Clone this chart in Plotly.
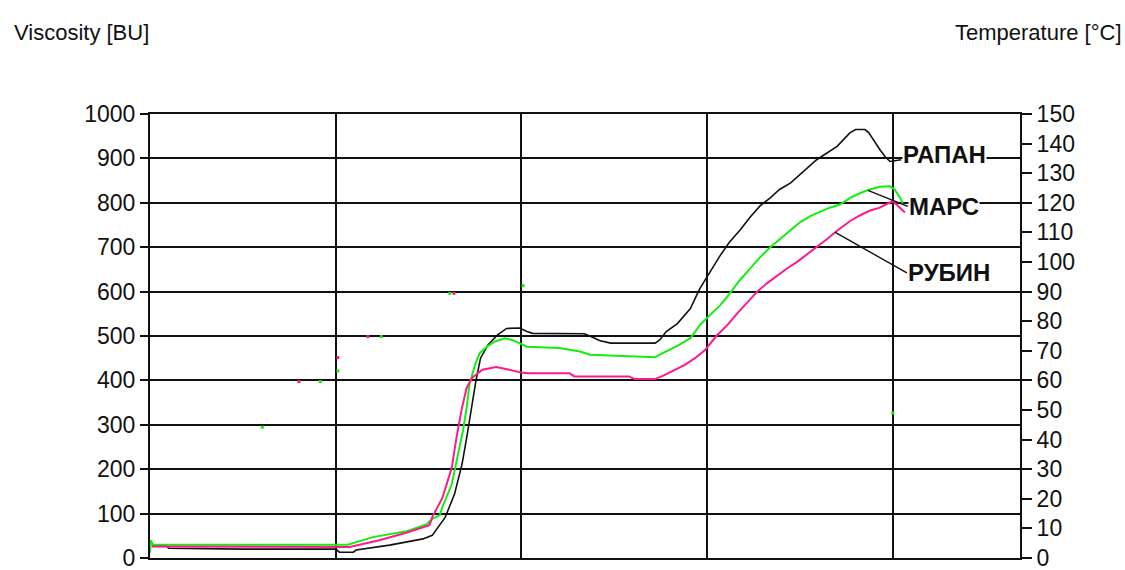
import plotly.graph_objects as go

# Time axis (min) and viscosity curves (BU)
rapan_t = [0.1, 0.9, 1.0, 5.0, 10.0, 10.2, 10.95, 11.1, 12.9, 14.7, 15.2, 15.6, 15.9, 16.4, 16.8, 17.05, 17.3,
           17.55, 17.8, 18.2, 18.7, 19.2, 19.9, 20.3, 20.6, 21.8, 23.4, 23.95, 24.2, 24.8, 27.2, 27.45,
           27.8, 28.4, 28.8, 29.1, 29.6, 30.15, 30.7, 31.2, 31.8, 32.3, 32.85, 33.4, 33.9, 34.5, 35.9,
           37.0, 37.7, 38.0, 38.5, 38.7, 39.0, 39.3, 39.6, 39.85, 40.45]
rapan_bu = [27, 27, 22, 20, 20, 13, 13, 18, 29, 43, 51, 76, 92, 144, 211, 270, 338,
            399, 450, 480, 502, 517, 518, 510, 506, 505, 505, 495, 490, 484, 484, 491,
            510, 528, 547, 562, 606, 644, 681, 711, 740, 767, 793, 811, 830, 845, 897,
            927, 958, 965, 965, 958, 938, 920, 903, 893, 897]

mars_t = [0.0, 0.05, 0.15, 10.65, 12.0, 13.8, 14.9, 15.2, 15.6, 15.75, 16.25, 16.55, 16.85, 17.05,
          17.2, 17.5, 17.75, 18.15, 18.55, 19.1, 19.5, 19.9, 20.3, 22.05, 23.15, 23.7, 25.8, 27.2,
          27.45, 28.0, 28.5, 29.1, 29.6, 30.15, 30.7, 31.2, 31.75, 32.3, 32.85, 33.4, 33.9, 34.45,
          35.0, 35.55, 36.1, 36.6, 37.15, 37.7, 38.25, 38.75, 39.3, 39.85, 40.1, 40.4, 40.55]
mars_bu = [12, 40, 30, 30, 47, 60, 76, 88, 96, 115, 166, 227, 286, 338,
           390, 435, 461, 476, 487, 495, 491, 484, 476, 473, 465, 458, 454, 452,
           458, 469, 480, 495, 524, 547, 569, 595, 625, 651, 677, 700, 718, 737,
           756, 770, 780, 789, 796, 811, 822, 830, 836, 837, 830, 811, 796]

rubin_t = [0.1, 10.75, 12.35, 13.8, 15.05, 15.2, 15.75, 16.25, 16.5, 16.8, 17.05, 17.35, 17.9, 18.65,
           19.35, 20.05, 20.45, 22.6, 22.85, 25.8, 26.1, 27.2, 27.7, 28.25, 28.8, 29.35, 29.9, 30.5,
           31.1, 31.6, 32.15, 32.7, 33.2, 33.75, 34.3, 34.85, 35.4, 35.9, 36.45, 37.0, 37.7, 38.25,
           38.75, 39.3, 39.85, 40.0, 40.2, 40.5, 40.65]
rubin_bu = [26, 25, 40, 57, 74, 92, 136, 203, 270, 338, 383, 406, 424, 430,
            424, 417, 416, 416, 409, 409, 403, 403, 412, 424, 435, 450, 469, 500,
            525, 550, 576, 600, 618, 636, 652, 667, 684, 700, 718, 737, 759, 772,
            782, 789, 800, 804, 796, 785, 778]

# Sparse temperature samples (°C)
temp_green_t = [6.05, 9.17, 10.12, 12.46, 16.14, 20.09, 40.0]
temp_green_c = [44.2, 59.6, 63.2, 74.8, 89.4, 92.0, 49.0]
temp_pink_t = [8.02, 10.12, 11.73, 16.37]
temp_pink_c = [59.6, 67.7, 74.8, 89.4]

bu_ticks = list(range(0, 1001, 100))
temp_ticks = list(range(0, 151, 10))

GREEN = "#10f010"
PINK = "#ff1a8c"
INK = "#111111"
TICK_FONT = dict(family="Liberation Sans, Arial", size=23, color=INK)
LABEL_FONT = dict(family="Liberation Sans, Arial", size=24, color=INK, weight="bold")

fig = go.Figure()
fig.add_trace(go.Scatter(x=rapan_t, y=rapan_bu, mode="lines", name="РАПАН",
                         line=dict(color=INK, width=1.6)))
fig.add_trace(go.Scatter(x=mars_t, y=mars_bu, mode="lines", name="МАРС",
                         line=dict(color=GREEN, width=2)))
fig.add_trace(go.Scatter(x=rubin_t, y=rubin_bu, mode="lines", name="РУБИН",
                         line=dict(color=PINK, width=2)))
fig.add_trace(go.Scatter(x=temp_green_t, y=temp_green_c, mode="markers", yaxis="y2",
                         marker=dict(color=GREEN, size=3, symbol="square")))
fig.add_trace(go.Scatter(x=temp_pink_t, y=temp_pink_c, mode="markers", yaxis="y2",
                         marker=dict(color=PINK, size=3, symbol="square")))

# Curve labels
fig.add_annotation(x=40.49, y=908, text="РАПАН", showarrow=False, xanchor="left", yanchor="middle",
                   font=LABEL_FONT, bgcolor="white", borderpad=0)
fig.add_annotation(x=38.66, y=828, ax=40.81, ay=792, axref="x", ayref="y", text="МАРС",
                   showarrow=True, arrowhead=0, arrowwidth=1.4, arrowcolor=INK,
                   xanchor="left", yanchor="middle", font=LABEL_FONT, bgcolor="white", borderpad=0)
fig.add_annotation(x=36.88, y=734, ax=40.76, ay=642, axref="x", ayref="y", text="РУБИН",
                   showarrow=True, arrowhead=0, arrowwidth=1.4, arrowcolor=INK,
                   xanchor="left", yanchor="middle", font=LABEL_FONT, bgcolor="white", borderpad=0)

# Axis titles
TITLE_FONT = dict(family="Liberation Sans, Arial", size=22, color=INK)
fig.add_annotation(xref="paper", yref="paper", x=-0.1586, y=1.1834, text="Viscosity [BU]",
                   showarrow=False, xanchor="left", yanchor="middle", font=TITLE_FONT)
fig.add_annotation(xref="paper", yref="paper", x=1.1195, y=1.1834, text="Temperature [°C]",
                   showarrow=False, xanchor="right", yanchor="middle", font=TITLE_FONT)

fig.update_layout(
    template="none",
    width=1125, height=570,
    margin=dict(l=150, r=105, t=114, b=12),
    paper_bgcolor="white", plot_bgcolor="white",
    showlegend=False,
    xaxis=dict(range=[0, 46.85], dtick=10, tick0=0, showgrid=True, gridcolor=INK, gridwidth=2,
               showticklabels=False, ticks="", zeroline=False, showline=True, mirror=True,
               linecolor=INK, linewidth=2, automargin=False),
    yaxis=dict(range=[0, 1000], tickvals=bu_ticks, showgrid=True, gridcolor=INK, gridwidth=2,
               ticks="outside", ticklen=8, tickwidth=2, tickcolor=INK, tickfont=TICK_FONT,
               ticklabeloverflow="allow",
               zeroline=False, showline=True, mirror=True, linecolor=INK, linewidth=2,
               automargin=False),
    yaxis2=dict(range=[0, 150], tickvals=temp_ticks, overlaying="y", side="right", showgrid=False,
                ticks="outside", ticklen=10, tickwidth=2, tickcolor=INK, tickfont=TICK_FONT,
                ticklabeloverflow="allow",
                zeroline=False, showline=True, linecolor=INK, linewidth=2, automargin=False),
)

fig.write_html("out.html")
